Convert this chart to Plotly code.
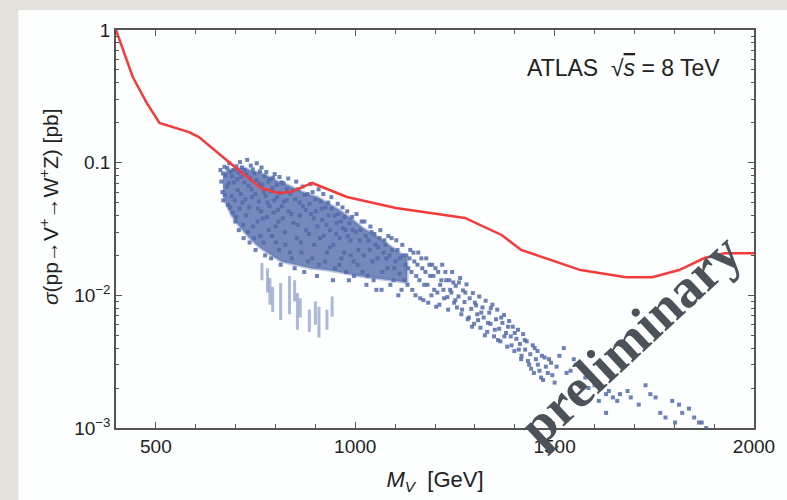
import plotly.graph_objects as go

# ---------------- data ----------------
limit_mv = [400, 442, 477, 509, 583, 608, 707, 764, 806, 838, 892, 979, 1102, 1275, 1367,
            1416, 1565, 1679, 1745, 1812, 1876, 1926, 2000]
limit_xsec = [1.0, 0.442, 0.282, 0.199, 0.170, 0.156, 0.088, 0.0644, 0.059, 0.060, 0.0703,
              0.0551, 0.0455, 0.0383, 0.0285, 0.022, 0.0155, 0.0137, 0.0137, 0.0155, 0.0191,
              0.0208, 0.0208]

# dense core of the model scan (outline of the solid region)
core_outline = [(668, 0.080), (680, 0.088), (700, 0.090), (720, 0.092), (740, 0.086),
                (760, 0.084), (785, 0.078), (806, 0.072), (830, 0.068), (855, 0.063),
                (880, 0.058), (905, 0.055), (930, 0.050), (960, 0.044), (990, 0.038),
                (1020, 0.032), (1060, 0.027), (1100, 0.022), (1130, 0.019),
                (1130, 0.0125), (1090, 0.013), (1050, 0.0135), (1010, 0.014), (970, 0.0148),
                (930, 0.0155), (890, 0.016), (850, 0.017), (815, 0.018), (785, 0.0205),
                (760, 0.023), (735, 0.027), (710, 0.033), (690, 0.040), (675, 0.050),
                (668, 0.062)]

scan_a = [(662, .088), (664, .072), (667, .060), (669, .052), (672, .093), (675, .080), (678, .066),
          (681, .048), (684, .099), (687, .085), (690, .056), (693, .042), (696, .071), (699, .036),
          (702, .094), (705, .062), (708, .031), (711, .101), (714, .078), (717, .050), (720, .027),
          (723, .088), (726, .040), (729, .105), (732, .067), (735, .025), (738, .095), (741, .055),
          (744, .033), (747, .083), (750, .022), (753, .099), (756, .045), (759, .070), (762, .028),
          (765, .092), (768, .038), (771, .060), (774, .020), (777, .085), (780, .050), (783, .031),
          (786, .075), (789, .019), (792, .064), (795, .042), (798, .082), (801, .025), (804, .055),
          (807, .036), (810, .078), (813, .017), (816, .047)]

scan_b = [(820, .070), (824, .030), (828, .052), (832, .076), (836, .021), (840, .041), (844, .062),
          (848, .016), (852, .072), (856, .034), (860, .050), (864, .025), (868, .066), (872, .015),
          (876, .044), (880, .058), (884, .029), (888, .069), (892, .019), (896, .038), (900, .053),
          (904, .014), (908, .063), (912, .027), (916, .045), (920, .058), (924, .018), (928, .034),
          (932, .050), (936, .023), (940, .055), (944, .013), (948, .040), (952, .029), (956, .049),
          (960, .017), (964, .036), (968, .046), (972, .021), (976, .031), (980, .043), (984, .013),
          (988, .026), (992, .039), (996, .018)]

scan_d = [(668, .083), (673, .057), (679, .091), (683, .070), (686, .046), (691, .079), (695, .088),
          (698, .052), (701, .039), (704, .075), (707, .084), (710, .045), (713, .058), (716, .092),
          (719, .034), (722, .071), (725, .053), (728, .082), (731, .030), (734, .046), (737, .077),
          (740, .063), (743, .089), (746, .027), (749, .058), (752, .074), (755, .036), (758, .051),
          (761, .086), (764, .043), (767, .068), (770, .025), (773, .079), (776, .056), (779, .039),
          (782, .072), (785, .047), (788, .061), (791, .028), (794, .077), (797, .052), (800, .033),
          (803, .068), (806, .044), (809, .022), (812, .059), (815, .071), (818, .038), (821, .051),
          (825, .024), (829, .063), (833, .043), (837, .058), (841, .019), (845, .035), (849, .053),
          (853, .027), (857, .063), (861, .040), (865, .021), (869, .047), (873, .057), (877, .031),
          (881, .018), (885, .049), (889, .041), (893, .060), (897, .024), (901, .043), (905, .033),
          (909, .017), (913, .051), (917, .037), (921, .028), (925, .046), (929, .021), (933, .040),
          (937, .031), (941, .045), (945, .024), (949, .016), (953, .035), (957, .041), (961, .027),
          (965, .019), (969, .032), (973, .039), (977, .015), (981, .028), (985, .035), (989, .020),
          (993, .031), (997, .014)]

scan_c = [(1003, .041), (1008, .022), (1013, .031), (1018, .015), (1023, .036), (1028, .012),
          (1033, .026), (1038, .033), (1043, .018), (1048, .029), (1053, .011), (1058, .023),
          (1063, .031), (1068, .015), (1073, .026), (1078, .019), (1083, .028), (1088, .012),
          (1093, .022), (1098, .016), (1103, .026), (1108, .010), (1113, .019), (1118, .024),
          (1123, .013), (1128, .020), (1133, .016), (1138, .022), (1143, .011), (1148, .018),
          (1153, .014), (1158, .021), (1163, .0095), (1168, .016), (1173, .012), (1178, .019),
          (1183, .0088), (1188, .014), (1193, .017), (1198, .011), (1203, .0082), (1208, .015),
          (1213, .012), (1218, .017), (1223, .0095), (1228, .013), (1233, .0078), (1238, .011),
          (1243, .015), (1248, .0088)]

scan_e = [(1001, .030), (1006, .017), (1011, .026), (1016, .036), (1021, .020), (1026, .028),
          (1031, .014), (1036, .022), (1041, .030), (1046, .013), (1051, .024), (1056, .019),
          (1061, .027), (1066, .011), (1071, .021), (1076, .024), (1081, .016), (1086, .020),
          (1091, .027), (1096, .013), (1101, .018), (1106, .022), (1111, .0145), (1116, .011),
          (1121, .020), (1126, .017), (1131, .012), (1136, .019), (1141, .015), (1146, .021),
          (1151, .010), (1156, .017), (1161, .013), (1166, .019), (1171, .0092), (1176, .015),
          (1181, .012), (1186, .017), (1191, .010), (1196, .014), (1201, .016), (1206, .0105),
          (1211, .0085), (1216, .013), (1221, .011), (1226, .015), (1231, .0097), (1236, .013),
          (1241, .0105), (1246, .0125)]

scan_tail = [(1251, .0092), (1260, .0125), (1268, .0078), (1276, .0105), (1285, .0068),
             (1293, .0058), (1300, .0088), (1308, .0065), (1316, .0074), (1325, .0050),
             (1333, .0062), (1340, .0080), (1350, .0055), (1358, .0046), (1366, .0068),
             (1374, .0049), (1383, .0058), (1392, .0042), (1400, .0052), (1410, .0039),
             (1417, .0035), (1425, .0046), (1433, .0032), (1441, .0028), (1450, .0040),
             (1458, .0030), (1466, .0024), (1475, .0034), (1483, .0026), (1491, .0031),
             (1500, .0022), (1523, .0040), (1540, .0027), (1553, .0030), (1577, .0024),
             (1600, .0021), (1629, .0018), (1646, .0017), (1664, .0018), (1691, .0017),
             (1728, .0021), (1753, .0017), (1629, .0013), (1765, .0013), (1795, .0016),
             (1812, .0015), (1837, .0014), (1862, .0011), (1869, .0011), (1802, .0011)]

scan_tail2 = [(1252, .0118), (1255, .0081), (1259, .0098), (1263, .0135), (1266, .0072),
              (1270, .0109), (1274, .0089), (1279, .0121), (1282, .0066), (1287, .0095),
              (1291, .0079), (1295, .0104), (1298, .0061), (1303, .0084), (1306, .0072),
              (1311, .0098), (1314, .0057), (1319, .0081), (1322, .0068), (1327, .0091),
              (1331, .0053), (1336, .0074), (1339, .0061), (1344, .0085), (1348, .0049),
              (1353, .0066), (1356, .0078), (1361, .0056), (1364, .0045), (1369, .0062),
              (1373, .0071), (1378, .0052), (1381, .0041), (1386, .0064), (1390, .0049),
              (1395, .0058), (1399, .0038), (1404, .0047), (1408, .0055), (1413, .0043),
              (1416, .0033), (1421, .0051), (1426, .0039), (1430, .0045), (1436, .0030),
              (1439, .0036), (1445, .0042), (1448, .0026), (1453, .0033), (1457, .0038),
              (1462, .0027), (1468, .0035), (1471, .0023), (1478, .0029), (1486, .0033),
              (1494, .0025), (1505, .0029), (1512, .0035), (1530, .0026), (1548, .0033),
              (1562, .0022), (1585, .0020), (1611, .0016), (1636, .0019), (1657, .0016),
              (1683, .0019), (1711, .0015), (1740, .0018), (1778, .0012), (1820, .0013),
              (1850, .0012), (1880, .0010)]

streak_mv = [766, 780, 786, 793, 813, 835, 848, 855, 862, 885, 900, 909, 929, 942]
streak_lo = [0.013, 0.0105, 0.0085, 0.0075, 0.0065, 0.0072, 0.009, 0.0055, 0.0068, 0.0053,
             0.006, 0.0048, 0.0055, 0.0069]
streak_hi = [0.0175, 0.016, 0.0135, 0.0116, 0.0124, 0.014, 0.013, 0.0104, 0.0095, 0.0078,
             0.009, 0.0082, 0.0078, 0.0098]

x_tickvals = [500, 1000, 1500, 2000]
x_ticktext = ["500", "1000", "1500", "2000"]
y_tickvals = [0.001, 0.01, 0.1, 1]
y_ticktext = ["10<sup>\u22123</sup>", "10<sup>\u22122</sup>", "0.1", "1"]
y_minor = [m * 10 ** e for e in (-3, -2, -1) for m in range(2, 10)]

# ---------------- figure ----------------
BLUE = "rgba(84,107,170,0.85)"
fig = go.Figure()

cx, cy = zip(*core_outline)
fig.add_trace(go.Scatter(x=list(cx), y=list(cy), mode="lines", fill="toself",
                         fillcolor="rgba(88,111,174,0.82)",
                         line=dict(width=3, color="rgba(92,116,178,0.4)"),
                         hoverinfo="skip", showlegend=False))

sx, sy = [], []
for m, lo, hi in zip(streak_mv, streak_lo, streak_hi):
    sx += [m, m, None]
    sy += [lo, hi, None]
fig.add_trace(go.Scatter(x=sx, y=sy, mode="lines",
                         line=dict(color="rgba(92,116,178,0.5)", width=3),
                         showlegend=False))

for pts in (scan_a, scan_b, scan_d, scan_c, scan_e, scan_tail, scan_tail2):
    px, py = zip(*pts)
    fig.add_trace(go.Scatter(x=list(px), y=list(py), mode="markers",
                             marker=dict(symbol="square", size=4, color=BLUE,
                                         line=dict(width=0)),
                             showlegend=False))

fig.add_trace(go.Scatter(x=limit_mv, y=limit_xsec, mode="lines",
                         line=dict(color="rgb(244,58,58)", width=2.5),
                         showlegend=False))

axis_common = dict(showgrid=False, zeroline=False, showline=True, linecolor="#555",
                   linewidth=1.5, mirror="allticks", ticks="inside", tickcolor="#555",
                   ticklen=6, tickwidth=1,
                   tickfont=dict(family="Liberation Sans, Arial", size=19, color="#222"))

fig.update_xaxes(range=[400, 2000], tickmode="array", tickvals=x_tickvals,
                 ticktext=x_ticktext,
                 minor=dict(tickmode="linear", tick0=400, dtick=100, ticks="inside",
                            ticklen=4, tickcolor="#555", showgrid=False),
                 title=dict(text="<i>M<sub>V</sub></i>  [GeV]", standoff=16,
                            font=dict(family="Liberation Sans, Arial", size=22, color="#222")),
                 **axis_common)
fig.update_yaxes(type="log", range=[-3, 0], tickmode="array", tickvals=y_tickvals,
                 ticktext=y_ticktext,
                 minor=dict(tickmode="array", tickvals=y_minor, ticks="inside",
                            ticklen=3, tickcolor="#555", showgrid=False),
                 **axis_common)

fig.update_layout(
    width=787, height=500,
    margin=dict(l=116, r=24, t=30, b=72),
    paper_bgcolor="#e3e2dd", plot_bgcolor="white",
    shapes=[dict(type="rect", xref="paper", yref="paper", x0=-0.153, x1=1.2,
                 y0=-0.4, y1=1.05, fillcolor="#fdfefe", line=dict(width=0), layer="below")],
    annotations=[
        dict(xref="paper", yref="paper", x=-0.105, y=0.555, xanchor="center", yanchor="middle",
             text="<i>\u03c3</i>(pp\u2192V<sup>+</sup>\u2192W<sup>+</sup>Z) [pb]",
             textangle=-90, showarrow=False,
             font=dict(family="Liberation Sans, Arial", size=21, color="#222")),
        dict(xref="paper", yref="paper", x=0.95, y=0.905, xanchor="right", yanchor="middle",
             text="ATLAS  \u221a<span style='text-decoration:overline'><i>s</i></span> = 8 TeV",
             showarrow=False,
             font=dict(family="Liberation Sans, Arial", size=23, color="#222")),
        dict(xref="paper", yref="paper", x=0.805, y=0.222, xanchor="center", yanchor="middle",
             text="<b>preliminary</b>", textangle=-43, showarrow=False,
             font=dict(family="Liberation Serif, Times New Roman", size=55, color="#4b5259")),
    ],
)

fig.write_html("out.html")
